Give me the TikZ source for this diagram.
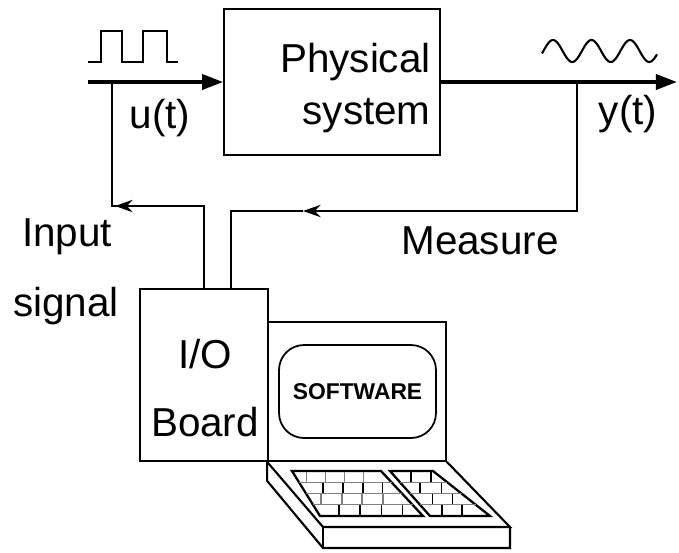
\documentclass[tikz,border=0pt]{standalone}
\usepackage{fontspec}
\setsansfont{Liberation Sans}
\usetikzlibrary{arrows.meta,calc}

\tikzset{
  box/.style={draw,line width=1pt,inner sep=0pt},
  wire/.style={line width=1.2pt},
  bigarrow/.style={line width=2.2pt,-{Triangle[length=12pt,width=8.5pt]}},
}

\begin{document}
\begin{tikzpicture}[x=0.02cm,y=-0.02cm,>={Stealth[length=10pt,width=7pt]},
  font=\sffamily\fontsize{23}{27}\selectfont]
  \useasboundingbox (0,0) rectangle (679,552);

  % plant and I/O board
  \node[box,minimum width=4.32cm,minimum height=2.92cm] (plant) at (332,82) {};
  \node[align=right,inner sep=0pt,anchor=east,font=\sffamily\fontsize{23}{30}\selectfont]
    (plantlbl) at (431,88) {Physical\\system};
  \node[box,minimum width=2.56cm,minimum height=3.44cm] (io) at (204,375) {};
  \node[align=center,font=\sffamily\fontsize{23}{39}\selectfont] (iolbl) at (205,388) {I/O\\Board};

  % input / output signals
  \coordinate (uin) at (88,82);
  \coordinate (yout) at (677,82);
  \draw[bigarrow] (uin) -- (plant.west);
  \draw[bigarrow] (plant.east) -- (yout);
  \draw[line width=1.2pt] (88,62) -| (101,31) -| (122,62) -| (143,31) -| (167,62) -- (178,62);
  \draw[line width=1.2pt,domain=542:657,samples=80,smooth]
    plot (\x,{51-11*cos(9.351*(\x-553))});
  \node (ulbl) at (160,118) {u(t)};
  \node (ylbl) at (628,114) {y(t)};

  % feedback wiring
  \coordinate (utap) at (112,82);
  \coordinate (ytap) at (577,82);
  \coordinate (icorner) at (112,206);
  \coordinate (mfoot) at (231,289);
  \coordinate (marrow) at (303,211);
  \draw[wire,->] (io.north) |- ([xshift=0.06cm]icorner);
  \draw[wire] (io.north |- icorner) -- (icorner) -- (utap);
  \draw[wire,->] (ytap) |- (marrow);
  \draw[wire] (marrow) -| (mfoot);
  \node (inlbl) at (67,237) {Input};
  \node (siglbl) at (66,306) {signal};
  \node (measlbl) at (480,241) {Measure};

  % laptop
  \node[box,minimum width=3.56cm,minimum height=2.78cm] (scr) at (357,391.5) {};
  \node[box,rounded corners=0.5cm,minimum width=3.14cm,minimum height=1.86cm,
    font=\sffamily\bfseries\fontsize{13}{15}\selectfont] (soft) at (357.5,391.5) {SOFTWARE};
  \coordinate (kfl) at (323,527);
  \coordinate (kfr) at (510,527);
  \draw[wire] (scr.south west) -- (kfl) -- (kfr) -- (scr.south east);
  \draw[wire] (scr.south west) -- ++(0,19) -- (323,548) -- (510,548) -- (kfr);
  \draw[wire] (kfl) -- (323,548);

  % keyboards
  \coordinate (kaa) at (292,471); \coordinate (kab) at (381,471);
  \coordinate (kac) at (423,516); \coordinate (kad) at (320,516);
  \coordinate (kba) at (390,471); \coordinate (kbb) at (433,471);
  \coordinate (kbc) at (490,516); \coordinate (kbd) at (430,516);
  \foreach \k in {a,b}{
    \draw[line width=1.3pt] (k\k a) -- (k\k b) -- (k\k c) -- (k\k d) -- cycle;
    \foreach \s in {0.25,0.5,0.75}
      \draw[gray,thin] ($(k\k a)!\s!(k\k d)$) -- ($(k\k b)!\s!(k\k c)$);
  }
  \foreach \s/\ts/\c in {0.125/{0.12,0.33,0.54,0.75}/gray,0.375/{0.22,0.43,0.64,0.85}/black,
                         0.625/{0.12,0.33,0.54,0.75}/gray,0.875/{0.22,0.43,0.64,0.85}/black}
    \foreach \t in \ts
      \draw[\c,line width=0.9pt] ($($(kaa)!\s!(kad)$)!\t!($(kab)!\s!(kac)$)$) ++(0,-5) -- ++(0,10);
  \foreach \s/\ts in {0.125/{0.36,0.8},0.375/{0.3,0.74},0.625/{0.33,0.7},0.875/{0.29,0.64}}
    \foreach \t in \ts
      \draw[line width=0.9pt] ($($(kba)!\s!(kbd)$)!\t!($(kbb)!\s!(kbc)$)$) ++(0,-5) -- ++(0,10);
\end{tikzpicture}
\end{document}
